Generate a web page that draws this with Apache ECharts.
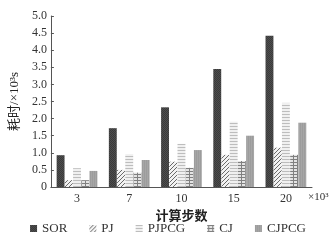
<!DOCTYPE html>
<html>
<head>
<meta charset="utf-8">
<script src="https://cdn.jsdelivr.net/npm/echarts@6/dist/echarts.min.js"></script>
<style>
  html, body { margin: 0; padding: 0; background: #fff; }
  #chart { width: 336px; height: 246px; }
</style>
</head>
<body>
<div id="chart"></div>
<script>
// data (time in 10^3 s)
const steps = ['3', '7', '10', '15', '20'];
const seriesNames = ['SOR', 'PJ', 'PJPCG', 'CJ', 'CJPCG'];
const sor = [0.93, 1.72, 2.33, 3.45, 4.42];
const pj = [0.2, 0.5, 0.74, 0.94, 1.15];
const pjpcg = [0.55, 0.96, 1.26, 1.91, 2.46];
const cj = [0.2, 0.42, 0.56, 0.76, 0.94];
const cjpcg = [0.47, 0.79, 1.08, 1.5, 1.88];

function makePattern(w, h, draw) {
  const c = document.createElement('canvas');
  c.width = w; c.height = h;
  draw(c.getContext('2d'));
  return { image: c, repeat: 'repeat' };
}

const fills = [
  // SOR: dark dotted
  makePattern(2, 2, ctx => {
    ctx.fillStyle = '#4e4e4e'; ctx.fillRect(0, 0, 2, 2);
    ctx.fillStyle = '#3a3a3a'; ctx.fillRect(0, 0, 1, 1); ctx.fillRect(1, 1, 1, 1);
  }),
  // PJ: diagonal hatch
  makePattern(4, 4, ctx => {
    ctx.fillStyle = '#f2f2f2'; ctx.fillRect(0, 0, 4, 4);
    ctx.fillStyle = '#6a6a6a';
    for (let i = 0; i < 4; i++) ctx.fillRect(3 - i, i, 1, 1);
  }),
  // PJPCG: light horizontal stripes
  makePattern(2, 3, ctx => {
    ctx.fillStyle = '#f0f0f0'; ctx.fillRect(0, 0, 2, 3);
    ctx.fillStyle = '#bdbdbd'; ctx.fillRect(0, 0, 2, 1);
  }),
  // CJ: brick-like grid
  makePattern(4, 3, ctx => {
    ctx.fillStyle = '#e4e4e4'; ctx.fillRect(0, 0, 4, 3);
    ctx.fillStyle = '#808080'; ctx.fillRect(0, 0, 4, 1);
    ctx.fillRect(1, 1, 1, 2);
  }),
  // CJPCG: medium grey
  makePattern(2, 2, ctx => {
    ctx.fillStyle = '#a6a6a6'; ctx.fillRect(0, 0, 2, 2);
    ctx.fillStyle = '#9c9c9c'; ctx.fillRect(0, 0, 1, 2);
  })
];

const values = [sor, pj, pjpcg, cj, cjpcg];
const font = '"Liberation Serif", "Noto Sans CJK SC", serif';

const chart = echarts.init(document.getElementById('chart'));
chart.setOption({
  animation: false,
  backgroundColor: '#fff',
  textStyle: { fontFamily: font },
  grid: { left: 44, right: 24, top: 16, bottom: 59 },
  legend: {
    bottom: 6,
    left: 'center',
    itemWidth: 7,
    itemHeight: 7,
    itemGap: 22,
    icon: 'rect',
    textStyle: { fontFamily: font, fontSize: 13, color: '#333' },
    data: seriesNames
  },
  xAxis: {
    type: 'category',
    data: steps,
    name: '计算步数',
    nameLocation: 'middle',
    nameGap: 21,
    nameTextStyle: { fontFamily: font, fontSize: 13, color: '#222', fontWeight: 'bold' },
    axisLine: { lineStyle: { color: '#555', width: 1 } },
    axisTick: { show: false },
    axisLabel: { fontFamily: font, fontSize: 12, color: '#333', margin: 6 }
  },
  yAxis: {
    type: 'value',
    min: 0,
    max: 5,
    interval: 0.5,
    name: '耗时/×10³s',
    nameLocation: 'middle',
    nameGap: 27,
    nameTextStyle: { fontFamily: font, fontSize: 13, color: '#222' },
    axisLine: { show: true, lineStyle: { color: '#555', width: 1 } },
    axisTick: { show: true, inside: true, length: 3, lineStyle: { color: '#555' } },
    splitLine: { show: false },
    axisLabel: {
      fontFamily: font, fontSize: 12, color: '#333', margin: 4,
      formatter: v => (v === 0 ? '0' : v.toFixed(1))
    }
  },
  graphic: [{
    type: 'text',
    left: 308,
    top: 192,
    style: { text: '×10³', fontFamily: font, fontSize: 11, fill: '#333' }
  }],
  series: seriesNames.map((name, i) => ({
    name: name,
    type: 'bar',
    data: values[i],
    barGap: '4%',
    barCategoryGap: '22%',
    itemStyle: { color: fills[i] }
  }))
});
</script>
</body>
</html>
